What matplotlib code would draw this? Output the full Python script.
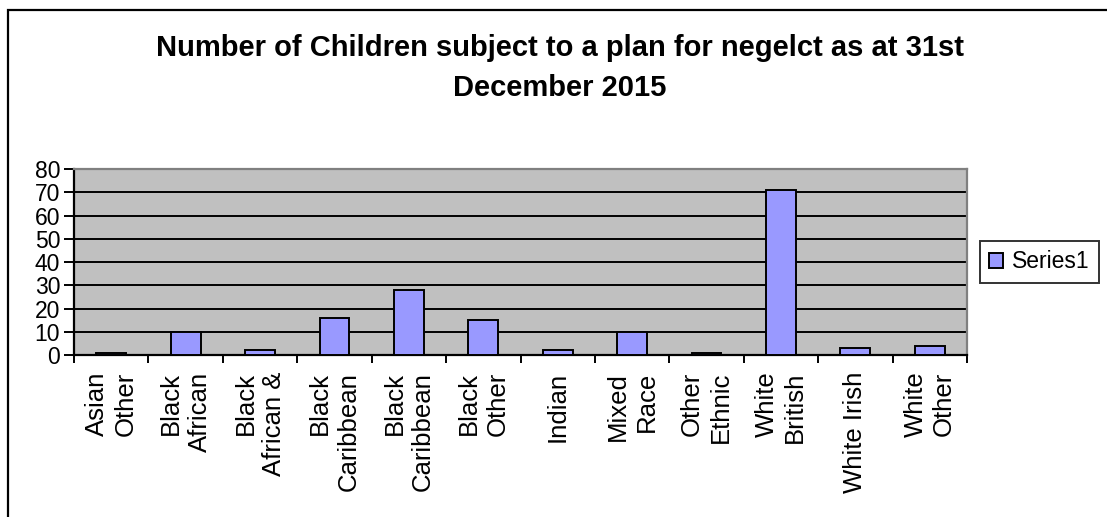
import matplotlib
matplotlib.use("Agg")
import matplotlib.pyplot as plt
from matplotlib.patches import Rectangle
from matplotlib.ticker import MultipleLocator, FixedLocator
import numpy as np

plt.rcParams['font.family'] = ['Liberation Sans', 'DejaVu Sans']

# Chart data
categories = ["Asian\nOther", "Black\nAfrican", "Black\nAfrican &", "Black\nCaribbean",
              "Black\nCaribbean", "Black\nOther", "Indian", "Mixed\nRace",
              "Other\nEthnic", "White\nBritish", "White Irish", "White\nOther"]
values = [1, 10, 2, 16, 28, 15, 2, 10, 1, 71, 3, 4]
series_name = "Series1"
title_text = "Number of Children subject to a plan for negelct as at 31st\nDecember 2015"
y_max = 80
y_step = 10

W, H = 1107, 517
fig = plt.figure(figsize=(W / 100, H / 100), dpi=100)
fig.patch.set_facecolor("white")

# Outer chart frame (only the top and left edges fall inside the canvas)
fig.add_artist(Rectangle((8 / W, -0.1), 1.2, 1 - 10 / H + 0.1, transform=fig.transFigure,
                         fill=False, edgecolor="black", linewidth=1.6))

left, right, top, bottom = 74 / W, 967 / W, 169 / H, 355 / H
ax = fig.add_axes([left, 1 - bottom, right - left, bottom - top])
ax.set_facecolor("#C0C0C0")

x = np.arange(len(categories))
ax.bar(x, values, width=0.4, color="#9999FF", edgecolor="black", linewidth=1.4,
       label=series_name, zorder=3)

ax.set_xlim(-0.5, len(categories) - 0.5)
ax.set_ylim(0, y_max)
ax.yaxis.set_major_locator(MultipleLocator(y_step))
ax.grid(axis="y", color="black", linewidth=1.4, zorder=1)
ax.set_axisbelow(True)

ax.set_xticks(x)
ax.set_xticklabels(categories, rotation=90, fontsize=18.5, va="top", ha="center",
                   multialignment="right", linespacing=1.25)
ax.xaxis.set_minor_locator(FixedLocator(np.arange(len(categories) + 1) - 0.5))
ax.tick_params(axis="x", which="major", length=0, pad=12)
ax.tick_params(axis="x", which="minor", length=6, width=1.4, color="black")
ax.tick_params(axis="y", which="major", length=7, width=1.4, labelsize=16.5, pad=3)

for side in ("left", "bottom"):
    ax.spines[side].set_color("black")
    ax.spines[side].set_linewidth(1.6)
for side in ("top", "right"):
    ax.spines[side].set_color("#808080")
    ax.spines[side].set_linewidth(1.6)

fig.text(560 / W, 1 - 34 / H, title_text, ha="center", va="top", fontsize=21,
         fontweight="bold", linespacing=1.56)

leg = fig.legend(loc="center left", bbox_to_anchor=(980 / W, 1 - 262 / H),
                 fontsize=16.5, frameon=True, fancybox=False, shadow=False,
                 handlelength=0.6, handleheight=0.6, handletextpad=0.4,
                 borderpad=0.4, borderaxespad=0)
leg.get_frame().set_edgecolor("black")
leg.get_frame().set_linewidth(1.4)

fig.savefig("out.png", dpi=100)
